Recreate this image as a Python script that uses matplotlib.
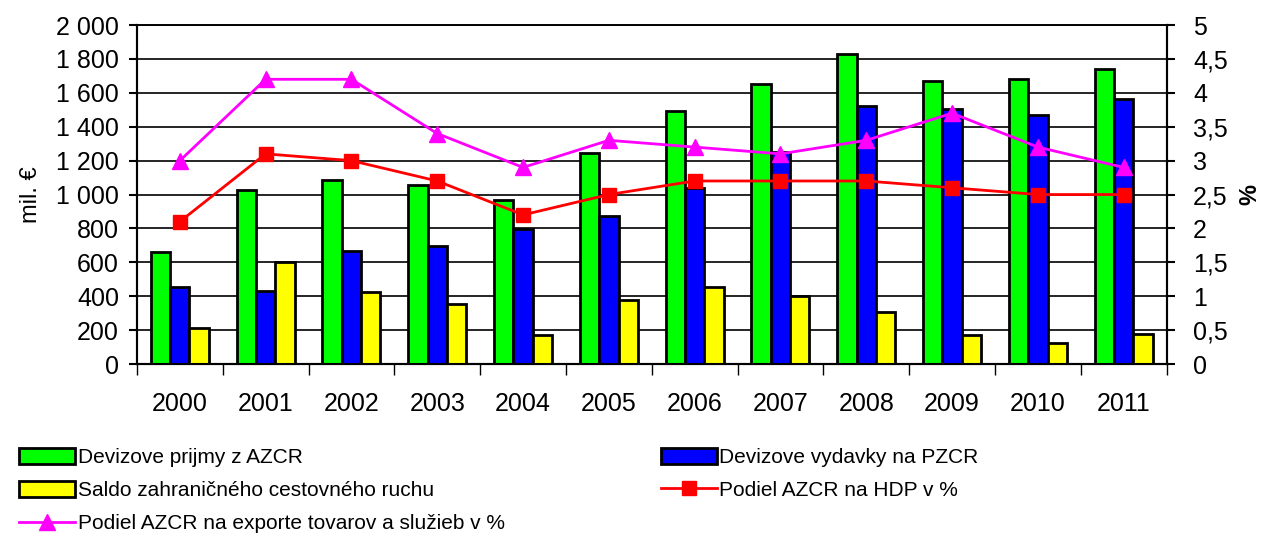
import numpy as np
import matplotlib.pyplot as plt
from matplotlib.ticker import FuncFormatter

plt.rcParams['font.family'] = ['Liberation Sans', 'DejaVu Sans']

# -------------------------------------------------------
# Data
# -------------------------------------------------------
years = ["2000", "2001", "2002", "2003", "2004", "2005",
         "2006", "2007", "2008", "2009", "2010", "2011"]
prijmy = [661, 1027, 1086, 1056, 968, 1245, 1493, 1652, 1829, 1671, 1681, 1742]
vydavky = [454, 431, 667, 696, 797, 873, 1038, 1251, 1522, 1504, 1469, 1565]
saldo = [212, 602, 425, 354, 171, 378, 454, 401, 307, 171, 124, 179]
podiel_hdp = [2.1, 3.1, 3.0, 2.7, 2.2, 2.5, 2.7, 2.7, 2.7, 2.6, 2.5, 2.5]
podiel_export = [3.0, 4.2, 4.2, 3.4, 2.9, 3.3, 3.2, 3.1, 3.3, 3.7, 3.2, 2.9]

labels = ["Devizove prijmy z AZCR",
          "Devizove vydavky na PZCR",
          "Saldo zahraničného cestovného ruchu",
          "Podiel AZCR na HDP v %",
          "Podiel AZCR na exporte tovarov a služieb v %"]

# -------------------------------------------------------
# Figure
# -------------------------------------------------------
fig = plt.figure(figsize=(12.68, 5.38), dpi=100)
ax = fig.add_axes([0.108, 0.3234, 0.812, 0.630])
ax2 = ax.twinx()

x = np.arange(len(years))
w = 0.225
b1 = ax.bar(x - w, prijmy, w, color="#00ff00", edgecolor="black", linewidth=2, zorder=3)
b2 = ax.bar(x, vydavky, w, color="#0000ff", edgecolor="black", linewidth=2, zorder=3)
b3 = ax.bar(x + w, saldo, w, color="#ffff00", edgecolor="black", linewidth=2, zorder=3)

l1, = ax2.plot(x, podiel_hdp, color="#ff0000", marker="s", markersize=10, linewidth=2)
l2, = ax2.plot(x, podiel_export, color="#ff00ff", marker="^", markersize=11, linewidth=2)

ax.set_xlim(-0.5, len(years) - 0.5)
ax.set_ylim(0, 2000)
ax.set_yticks(np.arange(0, 2001, 200))
ax.yaxis.set_major_formatter(FuncFormatter(lambda v, p: f"{int(v):,}".replace(",", " ")))
ax2.set_ylim(0, 5)
ax2.set_yticks(np.arange(0, 5.01, 0.5))
ax2.yaxis.set_major_formatter(FuncFormatter(lambda v, p: f"{v:g}".replace(".", ",")))

ax.grid(axis="y", color="black", linewidth=1.2, zorder=0)
ax.set_axisbelow(True)

# category separators as ticks, labels at centers
ax.set_xticks(np.arange(-0.5, len(years), 1))
ax.set_xticklabels([])
ax.set_xticks(x, minor=True)
ax.set_xticklabels(years, minor=True)
ax.tick_params(axis="x", which="major", length=8, width=1, direction="out")
ax.tick_params(axis="x", which="minor", length=0, pad=20, labelsize=18)
ax.tick_params(axis="y", length=6, direction="out", labelsize=18, width=1.5, pad=7)
ax2.tick_params(axis="y", length=6, direction="out", labelsize=18, width=1.5, pad=13)

for a in (ax, ax2):
    for s in a.spines.values():
        s.set_linewidth(1.5)
    a.spines["top"].set_linewidth(1.2)

ax.set_ylabel("mil. €", fontsize=17, labelpad=10)
ax2.set_ylabel("%", fontsize=17, fontweight="bold", labelpad=8)

leg_kw = dict(loc="upper left", frameon=False, handlelength=2.7, handleheight=0.85,
              handletextpad=0.12, labelspacing=0.65, borderaxespad=0, borderpad=0,
              fontsize=15)
leg1 = fig.legend([b1, b3, l2], [labels[0], labels[2], labels[4]],
                  bbox_to_anchor=(0.015, 0.168), **leg_kw)
leg2 = fig.legend([b2, l1], [labels[1], labels[3]],
                  bbox_to_anchor=(0.521, 0.168), **leg_kw)

fig.savefig("out.png", dpi=100)
